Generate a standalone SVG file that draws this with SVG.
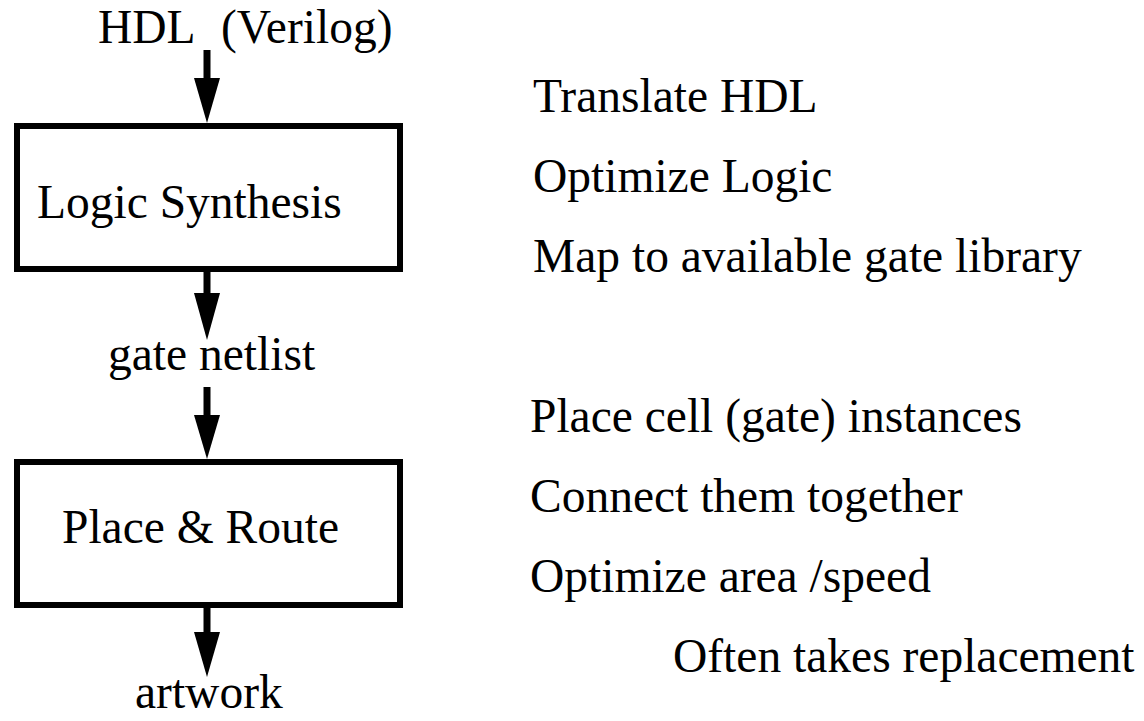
<svg xmlns="http://www.w3.org/2000/svg" width="1144" height="721" viewBox="0 0 1144 721">
<style>
.t{font-size:47.5px;fill:#000}
.box{fill:#fff;stroke:#000;stroke-width:6}
.shaft{stroke:#000;stroke-width:7;fill:none}
.head{fill:#000}
</style>
<rect width="1144" height="721" fill="#fff"/>
<g id="connectors">
<line class="shaft" x1="207" y1="50" x2="207" y2="80"/>
<polygon class="head" points="194,78 220,78 207,123"/>
<line class="shaft" x1="207" y1="272" x2="207" y2="295"/>
<polygon class="head" points="194,293 220,293 207,340"/>
<line class="shaft" x1="207" y1="387" x2="207" y2="417"/>
<polygon class="head" points="194,415 220,415 207,459"/>
<line class="shaft" x1="207" y1="608" x2="207" y2="634"/>
<polygon class="head" points="194,632 220,632 207,677"/>
</g>
<g class="t" font-family="Liberation Serif, DejaVu Serif, serif">
<g id="hdl"><text x="98" y="43">HDL</text><text x="221" y="43">(Verilog)</text></g>
<g id="logic-synthesis">
<rect class="box" x="17" y="126" width="383" height="143"/>
<text x="37" y="218">Logic Synthesis</text>
</g>
<g id="gate-netlist"><text x="108" y="370">gate netlist</text></g>
<g id="place-route">
<rect class="box" x="17" y="462" width="383" height="143"/>
<text x="62" y="543">Place &amp; Route</text>
</g>
<g id="artwork"><text x="135" y="708">artwork</text></g>
<g id="notes-synthesis">
<text x="533" y="112">Translate HDL</text>
<text x="533" y="192">Optimize Logic</text>
<text x="533" y="272">Map to available gate library</text>
</g>
<g id="notes-pnr">
<text x="530" y="432">Place cell (gate) instances</text>
<text x="530" y="512">Connect them together</text>
<text x="530" y="592">Optimize area /speed</text>
<text x="673" y="672">Often takes replacement</text>
</g>
</g>
</svg>
